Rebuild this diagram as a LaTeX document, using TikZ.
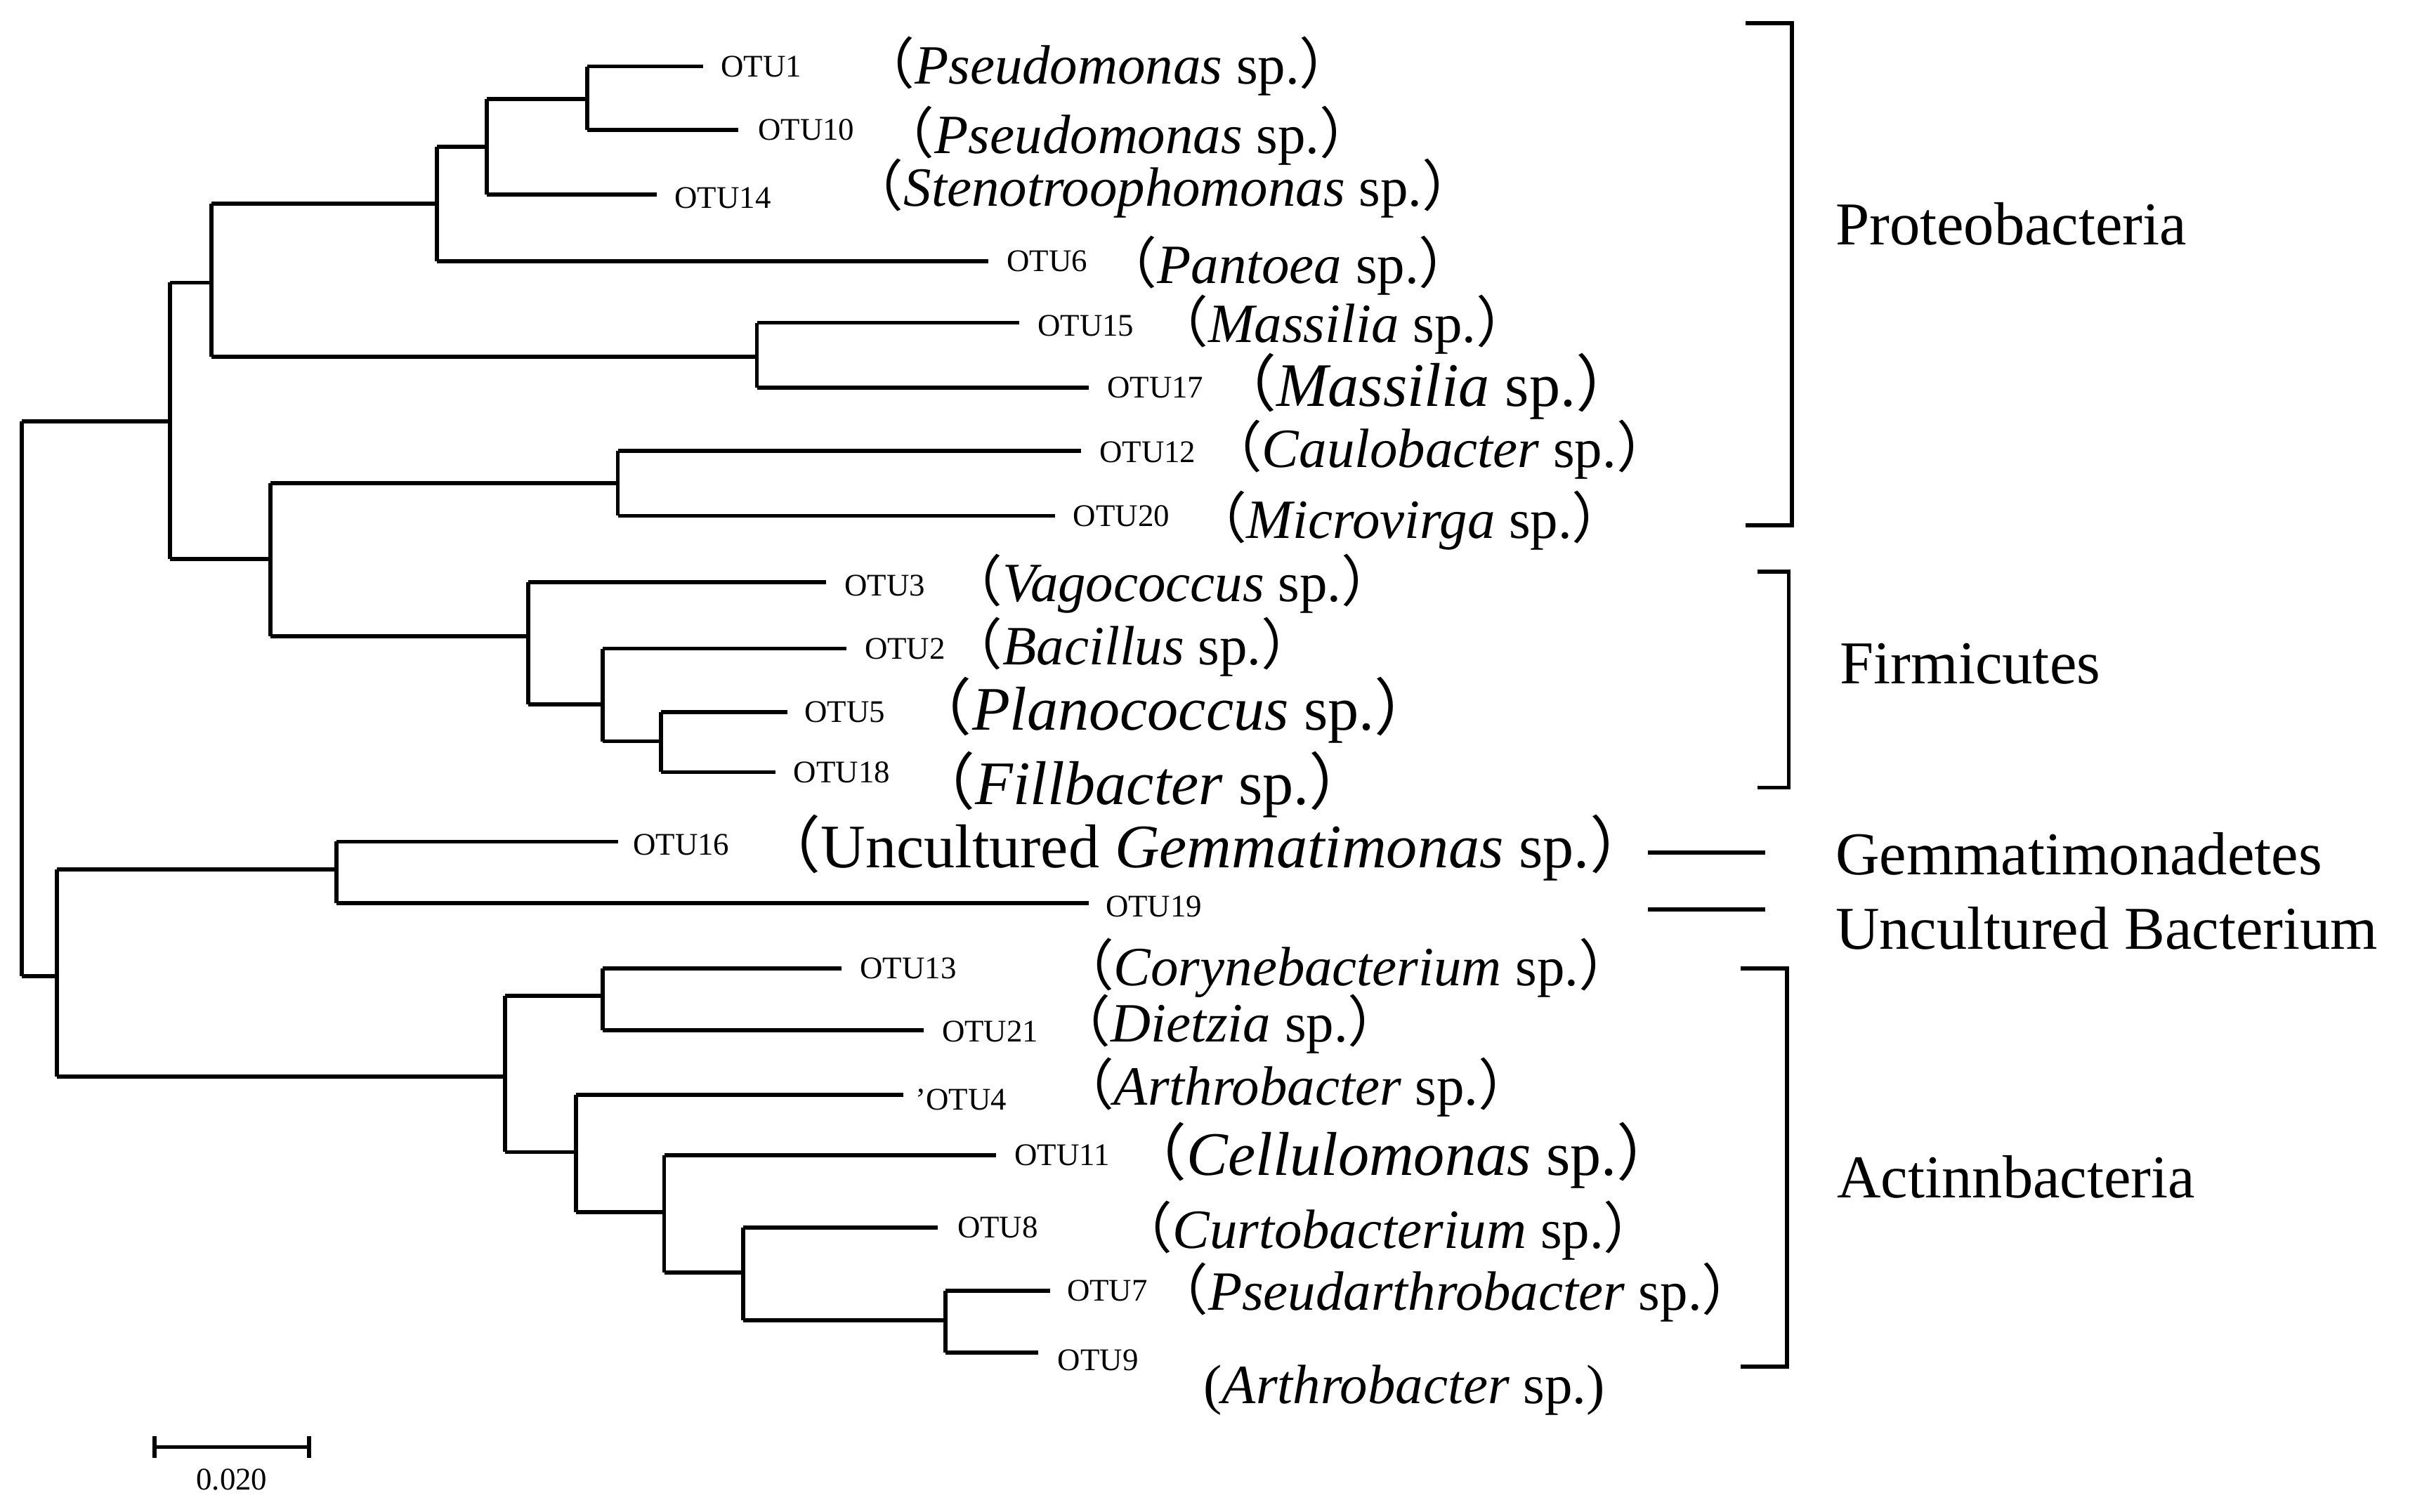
\documentclass[tikz,border=0pt]{standalone}
\usepackage{fontspec}
\setmainfont{Liberation Serif}
\newfontfamily\cjk{Noto Sans CJK SC}
\newcommand{\lp}{{\cjk （}}
\newcommand{\rp}{{\cjk ）}}
\begin{document}
\begin{tikzpicture}[x=0.01cm,y=-0.01cm,line width=0.75pt,
  otu/.style={anchor=west,font=\fontsize{5.8}{7}\selectfont,inner sep=1pt},
  sp/.style={anchor=west,font=\fontsize{10.2}{12}\selectfont,inner sep=0pt},
  spb/.style={anchor=west,font=\fontsize{11.4}{13}\selectfont,inner sep=0pt},
  grp/.style={anchor=west,font=\fontsize{11.2}{13}\selectfont,inner sep=0pt}]
\useasboundingbox (0,0) rectangle (1568,979);
% tree
\draw (14,273)--(14,632);
\draw (14,273)--(110,273) (110,183)--(110,362);
\draw (110,183)--(137,183) (137,132)--(137,231);
\draw (137,132)--(283,132) (283,95)--(283,169);
\draw (283,95)--(315,95) (315,64)--(315,126);
\draw (315,64)--(380,64) (380,43)--(380,84);
\draw (380,43)--(455,43) (380,84)--(478,84) (315,126)--(425,126) (283,169)--(640,169);
\draw (137,231)--(490,231) (490,209)--(490,251) (490,209)--(660,209) (490,251)--(705,251);
\draw (110,362)--(175,362) (175,313)--(175,412);
\draw (175,313)--(400,313) (400,292)--(400,334) (400,292)--(700,292) (400,334)--(683,334);
\draw (175,412)--(342,412) (342,377)--(342,456) (342,377)--(535,377);
\draw (342,456)--(390,456) (390,420)--(390,480) (390,420)--(548,420);
\draw (390,480)--(428,480) (428,461)--(428,500) (428,461)--(510,461) (428,500)--(502,500);
\draw (14,632)--(37,632) (37,563)--(37,697);
\draw (37,563)--(218,563) (218,545)--(218,585) (218,545)--(400,545) (218,585)--(705,585);
\draw (37,697)--(327,697) (327,645)--(327,746);
\draw (327,645)--(390,645) (390,627)--(390,667) (390,627)--(545,627) (390,667)--(598,667);
\draw (327,746)--(373,746) (373,709)--(373,785) (373,709)--(585,709);
\draw (373,785)--(430,785) (430,748)--(430,824) (430,748)--(645,748);
\draw (430,824)--(481,824) (481,795)--(481,855) (481,795)--(607,795);
\draw (481,855)--(612,855) (612,836)--(612,876) (612,836)--(680,836) (612,876)--(672,876);
% OTU labels
\node[otu] (o1) at (462,43) {OTU1};
\node[otu] (o10) at (486,84) {OTU10};
\node[otu] (o14) at (432,128) {OTU14};
\node[otu] (o6) at (647,169) {OTU6};
\node[otu] (o15) at (667,211) {OTU15};
\node[otu] (o17) at (712,251) {OTU17};
\node[otu] (o12) at (707,293) {OTU12};
\node[otu] (o20) at (690,334) {OTU20};
\node[otu] (o3) at (542,379) {OTU3};
\node[otu] (o2) at (555,420) {OTU2};
\node[otu] (o5) at (516,461) {OTU5};
\node[otu] (o18) at (509,500) {OTU18};
\node[otu] (o16) at (405,547) {OTU16};
\node[otu] (o19) at (711,587) {OTU19};
\node[otu] (o13) at (552,627) {OTU13};
\node[otu] (o21) at (605,668) {OTU21};
\node[otu] (o4) at (588,712) {'OTU4};
\node[otu] (o11) at (652,748) {OTU11};
\node[otu] (o8) at (615,795) {OTU8};
\node[otu] (o7) at (686,836) {OTU7};
\node[otu] (o9) at (680,881) {OTU9};
% species
\node[sp] (s1) at (555,43) {\lp\textit{Pseudomonas} sp.\rp};
\node[sp] (s10) at (568,88) {\lp\textit{Pseudomonas} sp.\rp};
\node[sp] (s14) at (548,122) {\lp\textit{Stenotroophomonas} sp.\rp};
\node[sp] (s6) at (712,172) {\lp\textit{Pantoea} sp.\rp};
\node[sp] (s15) at (745,210) {\lp\textit{Massilia} sp.\rp};
\node[spb] (s17) at (785,250) {\lp\textit{Massilia} sp.\rp};
\node[sp] (s12) at (780,291) {\lp\textit{Caulobacter} sp.\rp};
\node[sp] (s20) at (770,337) {\lp\textit{Microvirga} sp.\rp};
\node[sp] (s3) at (612,378) {\lp\textit{Vagococcus} sp.\rp};
\node[sp] (s2) at (612,419) {\lp\textit{Bacillus} sp.\rp};
\node[spb] (s5) at (588,460) {\lp\textit{Planococcus} sp.\rp};
\node[spb] (s18) at (590,508) {\lp\textit{Fillbacter} sp.\rp};
\node[spb] (s16) at (490,549) {\lp Uncultured \textit{Gemmatimonas} sp.\rp};
\node[sp] (s13) at (684,627) {\lp\textit{Corynebacterium} sp.\rp};
\node[sp] (s21) at (682,663) {\lp\textit{Dietzia} sp.\rp};
\node[sp] (s4) at (684,704) {\lp\textit{Arthrobacter} sp.\rp};
\node[spb] (s11) at (727,748) {\lp\textit{Cellulomonas} sp.\rp};
\node[sp] (s8) at (722,797) {\lp\textit{Curtobacterium} sp.\rp};
\node[sp] (s7) at (745,837) {\lp\textit{Pseudarthrobacter} sp.\rp};
\node[sp] (s9) at (778,900) {(\textit{Arthrobacter} sp.)};
% brackets
\draw (1130,15)--(1160,15)--(1160,340)--(1130,340);
\draw (1138,370)--(1158,370)--(1158,510)--(1138,510);
\draw (1127,627)--(1157,627)--(1157,885)--(1127,885);
\coordinate (ga) at (1067,552); \coordinate (gb) at (1143,552);
\coordinate (ua) at (1067,589); \coordinate (ub) at (1143,589);
\draw (ga)--(gb) (ua)--(ub);
\node[grp] (g1) at (1187,145) {Proteobacteria};
\node[grp] (g2) at (1190,430) {Firmicutes};
\node[grp] (g3) at (1187,553) {Gemmatimonadetes};
\node[grp] (g4) at (1187,601) {Uncultured Bacterium};
\node[grp] (g5) at (1188,762) {Actinnbacteria};
% scale bar
\draw (100,937)--(200,937) (100,930)--(100,944) (200,930)--(200,944);
\node[font=\fontsize{5.8}{7}\selectfont] (sc) at (150,958) {0.020};
\end{tikzpicture}
\end{document}
